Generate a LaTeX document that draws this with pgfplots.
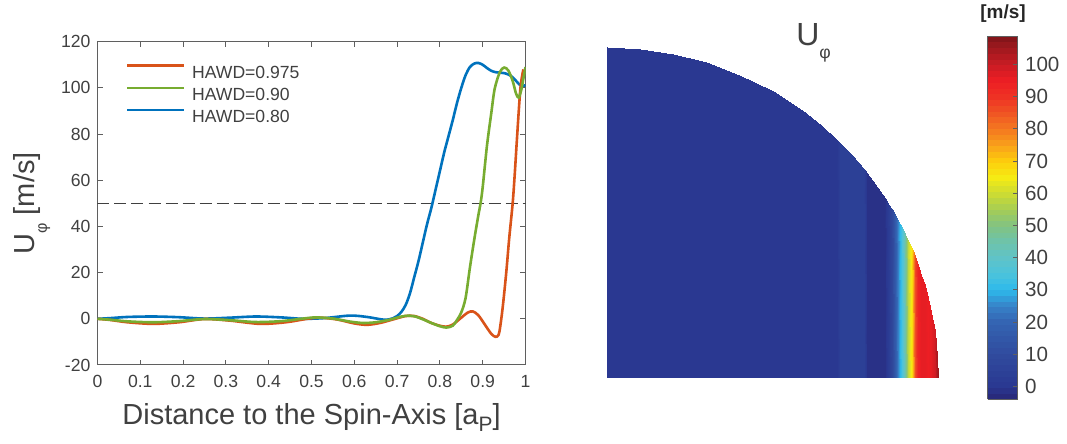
\documentclass[border=0pt]{standalone}
\usepackage{fontspec}
\setmainfont{Liberation Sans}
\usepackage{graphicx}
\usepackage{pgfplots}
\pgfplotsset{compat=1.18}

\definecolor{mred}{RGB}{217,83,25}
\definecolor{mgreen}{RGB}{119,172,48}
\definecolor{mblue}{RGB}{0,114,189}
\definecolor{axgray}{RGB}{95,95,95}
\definecolor{txtgray}{RGB}{64,64,64}

\newcommand{\phisub}{\raisebox{-0.42em}{\scalebox{0.55}{φ}}}
\newcommand{\tickfont}{\fontsize{8.8}{10}\selectfont}

\begin{document}
\begin{tikzpicture}
\useasboundingbox (0,0) rectangle (533.5pt,222pt);

% left: profiles
\begin{axis}[
    at={(48.75pt,39.5pt)}, anchor=south west,
    scale only axis, width=214pt, height=161.65pt,
    xmin=0, xmax=1, ymin=-20, ymax=120,
    xtick={0,0.1,0.2,0.3,0.4,0.5,0.6,0.7,0.8,0.9,1},
    xticklabels={0,0.1,0.2,0.3,0.4,0.5,0.6,0.7,0.8,0.9,1},
    ytick={-20,0,20,40,60,80,100,120},
    yticklabels={-20,0,20,40,60,80,100,120},
    tick align=inside, major tick length=2.6pt,
    tick style={axgray, line width=0.5pt},
    axis line style={axgray, line width=0.5pt},
    xticklabel style={font=\tickfont, text=txtgray, yshift=-1.5pt},
    yticklabel style={font=\tickfont, text=txtgray},
    xlabel={Distance to the Spin-Axis [a\raisebox{-0.23em}{\scalebox{0.72}{P}}]},
    xlabel style={at={(axis description cs:0.5,-0.1856)}, anchor=base,
        font=\fontsize{14.5}{16}\selectfont, text=txtgray},
    ylabel={U\phisub{} [m/s]},
    ylabel style={at={(axis description cs:-0.147,0.5)}, anchor=base,
        font=\fontsize{14.5}{16}\selectfont, text=txtgray},
    legend image code/.code={\draw[#1] (0pt,3.15pt) -- (28.5pt,3.15pt);},
    legend cell align=left,
    legend style={draw=none, fill=none, at={(axis description cs:0.0652,0.9315)},
        anchor=north west, inner sep=0pt, row sep=4.2pt,
        font=\tickfont, text=txtgray,
        nodes={inner sep=0pt, text height=6.3pt, text depth=0pt},
        /tikz/every odd column/.append style={column sep=3.35pt}},
]
\addlegendimage{mred, line width=1.3pt}
\addlegendentry{HAWD=0.975}
\addlegendimage{mgreen, line width=1.3pt}
\addlegendentry{HAWD=0.90}
\addlegendimage{mblue, line width=1.3pt}
\addlegendentry{HAWD=0.80}

\addplot[forget plot, txtgray, line width=0.6pt, dash pattern=on 6pt off 2.5pt]
    coordinates {(0,50) (1,50)};

% HAWD=0.80
\addplot[forget plot, mblue, line width=1.3pt, smooth, tension=0.5] coordinates {
(0,0) (0.03,0.3) (0.07,0.8) (0.13,1.0) (0.19,0.7) (0.25,0.1) (0.31,0.5)
(0.37,1.0) (0.43,0.6) (0.48,0) (0.53,0.3) (0.59,1.4) (0.63,0.8) (0.67,-0.4)
(0.69,0.2) (0.70,1.2) (0.71,3) (0.72,6) (0.73,11) (0.74,18) (0.75,25)
(0.76,33) (0.77,41) (0.78,48) (0.79,56) (0.80,64) (0.81,72) (0.82,79)
(0.83,86) (0.84,93.5) (0.85,100) (0.86,105.5) (0.87,109) (0.88,110.5)
(0.89,110.8) (0.90,110) (0.91,108.6) (0.92,107.4) (0.93,106.8) (0.94,106.6)
(0.95,106.4) (0.96,105.8) (0.97,104.6) (0.98,102.6) (0.99,100.8) (1.0,101.2)
};

% HAWD=0.975
\addplot[forget plot, mred, line width=1.3pt, smooth, tension=0.5] coordinates {
(0,0) (0.03,-0.5) (0.07,-1.5) (0.13,-2.2) (0.19,-1.5) (0.25,-0.1) (0.31,-0.8)
(0.38,-2.2) (0.44,-1.5) (0.49,0) (0.52,0.5) (0.56,-0.3) (0.60,-2.0) (0.63,-2.6)
(0.66,-1.8) (0.69,-0.3) (0.72,1.2) (0.74,1.2) (0.76,0) (0.78,-1.8) (0.80,-3.0)
(0.815,-3.4) (0.83,-2.5) (0.85,0.5) (0.865,2.7) (0.877,3.2) (0.89,1.5)
(0.905,-2.5) (0.92,-6.5) (0.93,-7.8) (0.937,-7) (0.941,-3.3) (0.947,5.4)
(0.955,20) (0.962,35) (0.97,50) (0.975,63) (0.98,77.8) (0.988,99.6) (0.995,108)
};

% HAWD=0.90
\addplot[forget plot, mgreen, line width=1.3pt, smooth, tension=0.5] coordinates {
(0,0) (0.03,-0.4) (0.07,-1.1) (0.13,-1.5) (0.19,-1.0) (0.25,-0.1) (0.31,-0.6)
(0.37,-1.4) (0.43,-1.0) (0.48,0.1) (0.51,0.6) (0.55,0.1) (0.59,-1.2) (0.62,-1.8)
(0.65,-1.5) (0.68,-0.5) (0.70,0.5) (0.72,1.3) (0.74,1.1) (0.76,-0.2) (0.78,-1.8)
(0.80,-3.2) (0.815,-3.8) (0.83,-3) (0.84,-0.5) (0.85,2.8) (0.86,9) (0.87,22)
(0.88,34) (0.89,45) (0.895,50) (0.90,57) (0.91,75) (0.92,89) (0.928,99.6)
(0.94,106.8) (0.95,108.8) (0.96,107.5) (0.97,103) (0.978,97.5) (0.984,95.8)
(0.99,99) (0.995,104) (1.0,109)
};
\end{axis}

% right: meridional map of U_phi
\begin{axis}[
    at={(303.5pt,33pt)}, anchor=south west,
    scale only axis, width=165.5pt, height=165.5pt,
    xmin=0, xmax=1, ymin=0, ymax=1,
    hide axis, clip=false,
    colormap={uphi}{
        rgb255(0pt)=(40,38,118); rgb255(3.9pt)=(42,56,145);
        rgb255(13.9pt)=(48,75,158); rgb255(23.9pt)=(52,100,178);
        rgb255(28.9pt)=(55,130,200); rgb255(33.9pt)=(45,185,235);
        rgb255(38.9pt)=(75,195,220); rgb255(43.9pt)=(95,195,200);
        rgb255(48.9pt)=(110,195,170); rgb255(53.9pt)=(130,195,130);
        rgb255(58.9pt)=(165,205,85); rgb255(63.9pt)=(205,220,50);
        rgb255(68.9pt)=(245,235,20); rgb255(73.9pt)=(253,205,12);
        rgb255(78.9pt)=(249,160,27); rgb255(83.9pt)=(244,120,32);
        rgb255(88.9pt)=(240,85,35); rgb255(93.9pt)=(238,50,36);
        rgb255(98.9pt)=(237,30,36); rgb255(103.9pt)=(200,28,36);
        rgb255(108.9pt)=(160,25,30); rgb255(112.7pt)=(125,20,25)},
    point meta min=-3.9, point meta max=108.8,
    colorbar, colorbar sampled,
    colorbar style={
        at={(1.151,1.033)}, anchor=north west,
        scale only axis, width=15pt, height=181.5pt,
        samples=64,
        ytick={0,10,20,30,40,50,60,70,80,90,100},
        ytick pos=right, yticklabel pos=right, ytick align=inside,
        major tick length=2.5pt,
        tick style={axgray, line width=0.5pt},
        axis line style={axgray, line width=0.5pt},
        yticklabel style={font=\fontsize{10.3}{12}\selectfont, text=txtgray},
        /pgf/number format/assume math mode=true,
        title={[m/s]},
        title style={at={(0.5,1)}, anchor=base, yshift=3pt,
            font=\bfseries\fontsize{9.5}{11}\selectfont, text=black!85},
    },
]
\addplot[surf, shader=interp, mesh/rows=2, point meta=explicit]
    table[x=x, y=y, meta=c] {
x y c
0 0 0
0.1 0 0
0.2 0 0
0.3 0 0
0.4 0 0
0.5 0 0
0.6 0 0
0.65 0 0
0.695 0 0
0.705 0 4
0.74 0 4
0.775 0 4
0.785 0 -1.5
0.81 0 -1.5
0.84 0 -1.5
0.85 0 2
0.86 0 8
0.87 0 16
0.88 0 25
0.89 0 35
0.90 0 45
0.91 0 58
0.92 0 68
0.93 0 86
0.94 0 94
0.95 0 96
0.96 0 96
0.97 0 95
0.98 0 96
0.99 0 99
0.995 0 102
0.998 0 104
1.0 0 106
0 1 0
0.1 0.99499 0
0.2 0.97980 0
0.3 0.95394 0
0.4 0.91652 0
0.5 0.86603 0
0.6 0.8 0
0.65 0.75993 0
0.695 0.71901 0
0.705 0.70921 4
0.74 0.67261 4
0.775 0.63196 4
0.785 0.61950 -1.5
0.81 0.58643 -1.5
0.84 0.54259 -1.5
0.85 0.52678 2
0.86 0.51029 8
0.87 0.49305 16
0.88 0.47497 25
0.89 0.45596 35
0.90 0.43589 45
0.91 0.41461 58
0.92 0.39192 68
0.93 0.36756 86
0.94 0.34117 94
0.95 0.31225 96
0.96 0.28 96
0.97 0.24310 95
0.98 0.19900 96
0.99 0.14107 99
0.995 0.09987 102
0.998 0.06321 104
1.0 0 106
};
\node[anchor=base, font=\fontsize{16}{18}\selectfont, text=txtgray]
    at (rel axis cs:0.624,1.006) {U\phisub};
\end{axis}
\end{tikzpicture}
\end{document}
